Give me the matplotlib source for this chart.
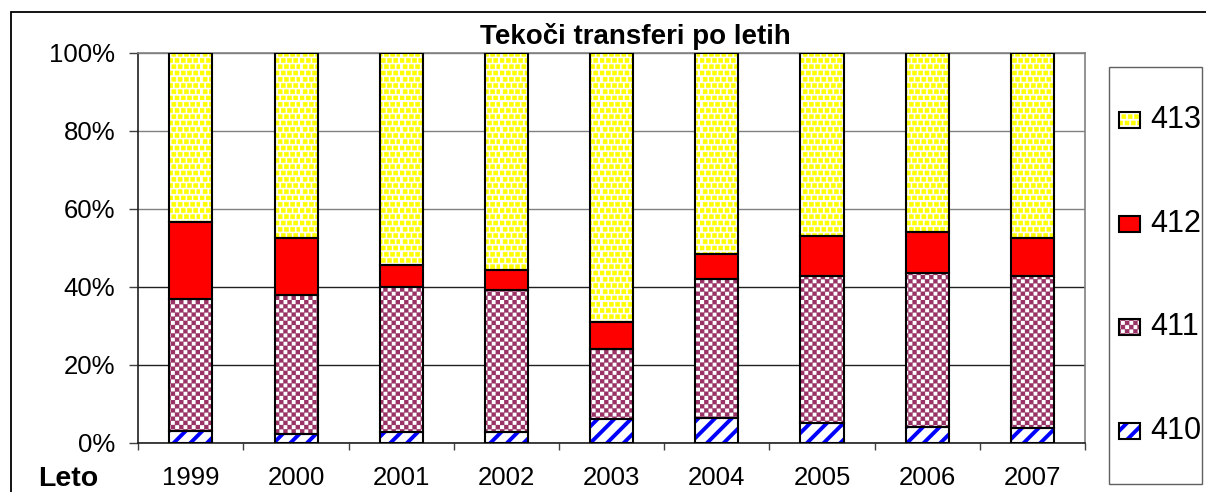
import matplotlib
matplotlib.use('Agg')
import matplotlib.pyplot as plt
from matplotlib.patches import Rectangle
from matplotlib.path import Path
from matplotlib import hatch as mhatch
import numpy as np

# ---------------- data ----------------
years = ['1999', '2000', '2001', '2002', '2003', '2004', '2005', '2006', '2007']
s410 = [3.1, 2.3, 2.7, 2.7, 6.0, 6.3, 5.0, 4.1, 3.8]
s411 = [33.7, 35.5, 37.3, 36.4, 17.9, 35.6, 37.7, 39.5, 38.9]
s412 = [19.9, 14.8, 5.6, 5.2, 7.0, 6.5, 10.3, 10.3, 9.9]
s413 = [43.3, 47.4, 54.4, 55.7, 69.1, 51.6, 47.0, 46.1, 47.4]
series_labels = ['410', '411', '412', '413']
y_ticks = [0, 20, 40, 60, 80, 100]
y_tick_labels = ['0%', '20%', '40%', '60%', '80%', '100%']
title = 'Tekoči transferi po letih'
xlabel = 'Leto'


# ---------------- custom hatch patterns ----------------
class CheckerHatch(mhatch.HatchPatternBase):
    """Checkerboard of filled squares, triggered by 'O'."""

    def __init__(self, hatch, density):
        self.pairs = hatch.count('O') * density
        n = 2 * self.pairs
        self.num_cells = (n * n) // 2
        self.num_vertices = self.num_cells * 5

    def set_vertices_and_codes(self, vertices, codes):
        n = 2 * self.pairs
        s = 1.0 / n
        verts = []
        for i in range(n):
            for j in range(n):
                if (i + j) % 2 == 0:
                    x0, y0 = i * s, j * s
                    verts.append([[x0, y0], [x0 + s, y0], [x0 + s, y0 + s], [x0, y0 + s], [x0, y0]])
        vertices[:] = np.array(verts).reshape(-1, 2)
        codes[:] = np.tile([Path.MOVETO, Path.LINETO, Path.LINETO, Path.LINETO, Path.CLOSEPOLY],
                           self.num_cells)


class SquareDots(mhatch.HatchPatternBase):
    """Staggered small filled squares, triggered by '*'."""

    def __init__(self, hatch, density):
        self.rows = hatch.count('*') * 8
        self.num_cells = self.rows * self.rows
        self.num_vertices = self.num_cells * 5

    def set_vertices_and_codes(self, vertices, codes):
        n = self.rows
        s = 1.0 / n
        d = 0.04
        verts = []
        for r in range(n):
            shift = (s / 2) if r % 2 else 0.0
            for c in range(n):
                x0 = (c * s + shift) % 1.0
                y0 = r * s
                verts.append([[x0, y0], [x0 + d, y0], [x0 + d, y0 + d], [x0, y0 + d], [x0, y0]])
        vertices[:] = np.array(verts).reshape(-1, 2)
        codes[:] = np.tile([Path.MOVETO, Path.LINETO, Path.LINETO, Path.LINETO, Path.CLOSEPOLY],
                           self.num_cells)


mhatch._hatch_types = [
    CheckerHatch if c is mhatch.LargeCircles else (SquareDots if c is mhatch.Stars else c)
    for c in mhatch._hatch_types
]

plt.rcParams['font.family'] = ['Liberation Sans', 'DejaVu Sans']

W, H = 1206, 492
fig = plt.figure(figsize=(W / 100, H / 100), dpi=100)


def fx(px):
    return px / W


def fy(py):
    return 1 - py / H


ax = fig.add_axes([fx(138.3), fy(442.7), fx(1085) - fx(138.3), fy(52.7) - fy(442.7)])

styles = {
    '410': dict(face='white', hatch='//', hcolor='#0000ff', hlw=2.8),
    '411': dict(face='white', hatch='OO', hcolor='#993366', hlw=0.2),
    '412': dict(face='#ff0000', hatch=None, hcolor='#ff0000', hlw=1.0),
    '413': dict(face='white', hatch='**', hcolor='#ffff00', hlw=0.4),
}


def styled_patches(patches, st):
    for p in patches:
        if hasattr(p, 'set_hatch_linewidth'):
            p.set_hatch_linewidth(st['hlw'])


x = np.arange(len(years))
bw = 0.41
bottom = np.zeros(len(years))
data = {'410': s410, '411': s411, '412': s412, '413': s413}
for lab in series_labels:
    vals = np.array(data[lab])
    st = styles[lab]
    with plt.rc_context({'hatch.linewidth': st['hlw']}):
        b = ax.bar(x, vals, bw, bottom=bottom, color=st['face'], edgecolor=st['hcolor'],
                   hatch=st['hatch'], linewidth=0, zorder=2)
    styled_patches(b.patches, st)
    ax.bar(x, vals, bw, bottom=bottom, fill=False, edgecolor='black', linewidth=1.5, zorder=3)
    bottom = bottom + vals

ax.set_xlim(-0.5, len(years) - 0.5)
ax.set_ylim(0, 100)
ax.set_yticks(y_ticks)
ax.set_yticklabels(y_tick_labels, fontsize=18.5)
ax.set_xticks(x)
ax.set_xticklabels(years, fontsize=18.5)
ax.set_xticks(np.arange(len(years) + 1) - 0.5, minor=True)
ax.tick_params(axis='x', which='major', length=0, pad=17)
ax.tick_params(axis='x', which='minor', length=5, width=1, direction='out', color='#404040')
ax.tick_params(axis='y', which='major', length=6.5, width=1, direction='out', pad=10, color='#404040')

ax.set_axisbelow(True)
ax.yaxis.grid(True, linewidth=1)
for val, gl in zip(y_ticks, ax.get_ygridlines()):
    gl.set_color('#808080' if val >= 60 else '#202020')
ax.spines['top'].set_color('#808080')
ax.spines['right'].set_color('#808080')
ax.spines['left'].set_color('#202020')
ax.spines['bottom'].set_color('#202020')
for s in ax.spines.values():
    s.set_linewidth(1.2)

# title and axis label
fig.text(fx(635.5), fy(44), title, ha='center', va='baseline', fontsize=20, fontweight='bold')
fig.text(fx(38.3), fy(486), xlabel, ha='left', va='baseline', fontsize=20.5, fontweight='bold')

# outer chart border
fig.add_artist(Rectangle((fx(10.7), -0.05), 1.0, fy(11.7) + 0.05, transform=fig.transFigure,
                         fill=False, edgecolor='black', linewidth=1.3))

# legend (manual)
fig.add_artist(Rectangle((fx(1109), fy(484)), fx(1202) - fx(1109), fy(67.3) - fy(484),
                         transform=fig.transFigure, facecolor='white', edgecolor='#606060', linewidth=1.0))
legend_order = ['413', '412', '411', '410']
legend_y = [120, 224, 327, 431]
for lab, yc in zip(legend_order, legend_y):
    st = styles[lab]
    with plt.rc_context({'hatch.linewidth': st['hlw']}):
        r = Rectangle((fx(1119), fy(yc + 8)), fx(21), 16 / H, transform=fig.transFigure,
                      facecolor=st['face'], edgecolor=st['hcolor'], hatch=st['hatch'], linewidth=0)
    styled_patches([r], st)
    fig.add_artist(r)
    fig.add_artist(Rectangle((fx(1119), fy(yc + 8)), fx(21), 16 / H, transform=fig.transFigure,
                             fill=False, edgecolor='black', linewidth=1.5))
    fig.text(fx(1150), fy(yc), lab, ha='left', va='center', fontsize=22)

fig.savefig('out.png', dpi=100)
